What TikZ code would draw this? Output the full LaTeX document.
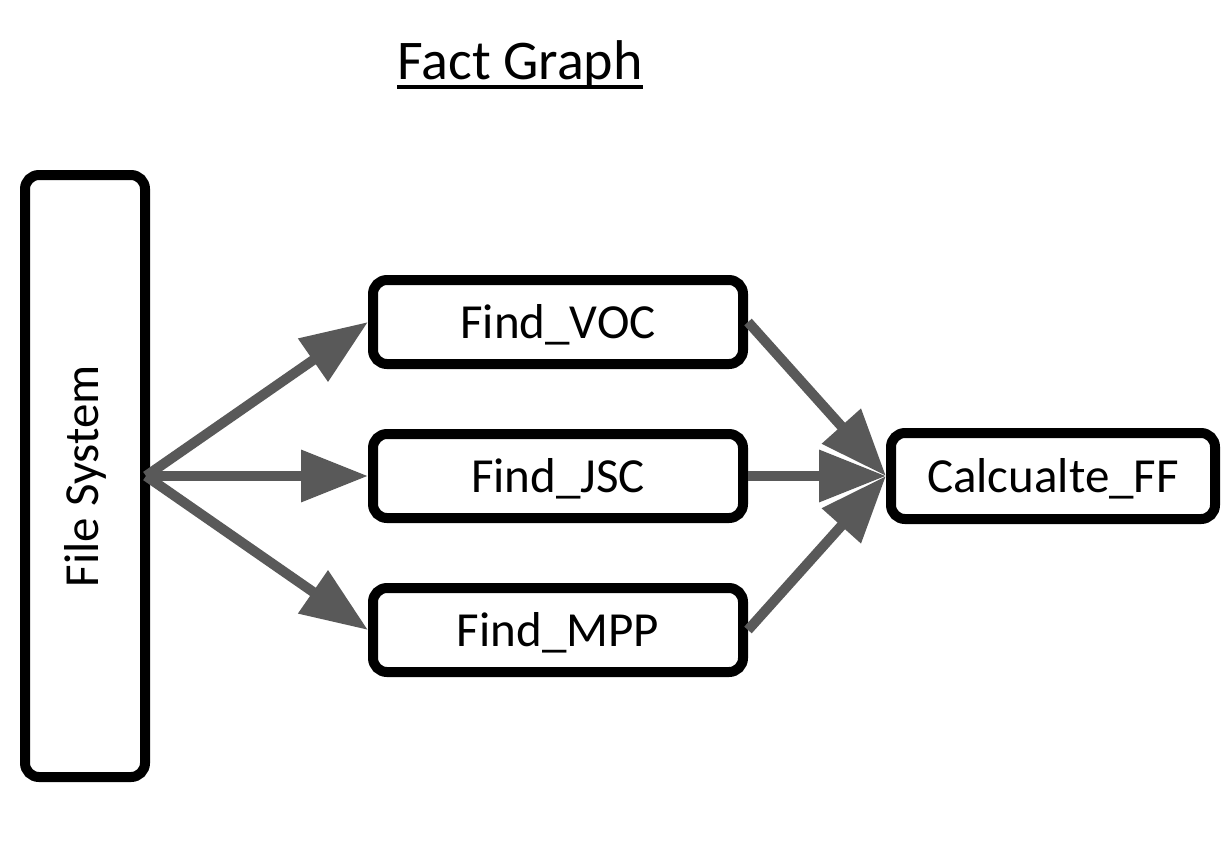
\documentclass[tikz,border=0pt]{standalone}
\usepackage{fontspec}
\setmainfont{Carlito}
\usepackage{graphicx}
\usepackage{xcolor}
\usetikzlibrary{positioning,arrows.meta}

\definecolor{arrowgray}{HTML}{595959}

\begin{document}
\begin{tikzpicture}[x=1pt, y=-1pt,
  box/.style={draw, rectangle, rounded corners=14pt, line width=10pt, align=center,
    font=\fontsize{49}{58}\selectfont, text height=32pt, text depth=0pt},
  flow/.style={arrowgray, line width=10pt, -{Triangle[length=67pt, width=50pt]}}]
  \useasboundingbox (0,0) rectangle (1230,854);

  \node[inner sep=0pt, font=\fontsize{56}{66}\selectfont] (title) at (520,65) {Fact Graph};
  \draw[line width=4pt] ([yshift=-7pt]title.base west) -- ([yshift=-7pt]title.base east);

  \node[box, minimum width=120pt, minimum height=602pt, text height=, text depth=] (FS) at (85,476) {\rotatebox{90}{File System}};
  \node[box, minimum width=370pt, minimum height=84pt] (VOC) at (558,322) {Find\_VOC};
  \node[box, minimum width=370pt, minimum height=84pt] (JSC) at (558,476) {Find\_JSC};
  \node[box, minimum width=370pt, minimum height=84pt] (MPP) at (558,630) {Find\_MPP};
  \node[box, minimum width=324pt, minimum height=86pt] (FF) at (1053,476) {Calcualte\_FF};

  \draw[flow] ([xshift=-4pt]FS.east) -- (VOC.west);
  \draw[flow] ([xshift=-4pt]FS.east) -- (JSC.west);
  \draw[flow] ([xshift=-4pt]FS.east) -- (MPP.west);
  \draw[flow] (VOC.east) -- (FF.west);
  \draw[flow] (JSC.east) -- (FF.west);
  \draw[flow] (MPP.east) -- (FF.west);
\end{tikzpicture}
\end{document}
